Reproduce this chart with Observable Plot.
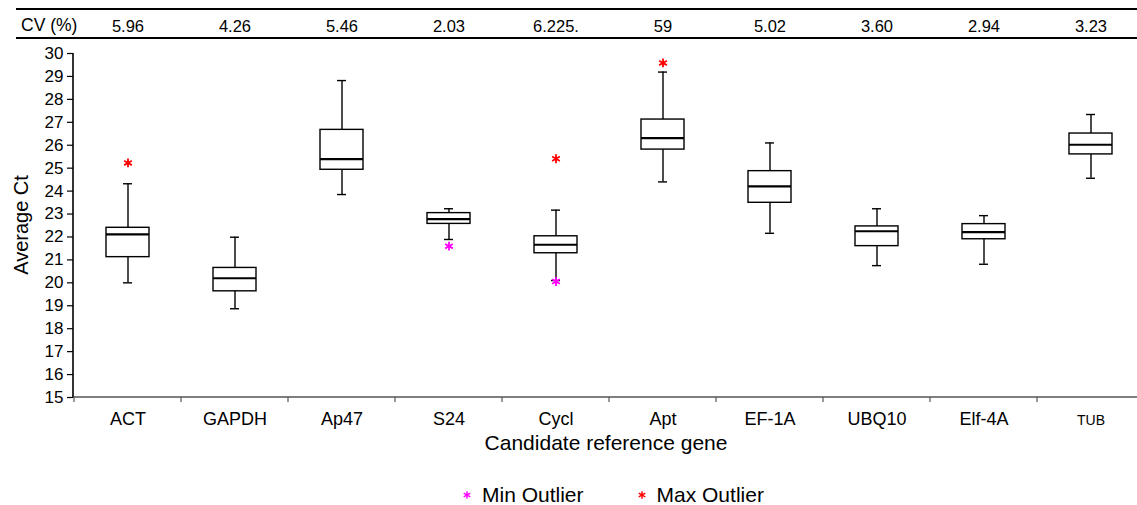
<!DOCTYPE html>
<html>
<head>
<meta charset="utf-8">
<script src="https://cdn.jsdelivr.net/npm/d3@7"></script>
<script src="https://cdn.jsdelivr.net/npm/@observablehq/plot@0.6"></script>
<style>
  body { margin: 0; background: #fff; font-family: "Liberation Sans", Arial, Helvetica, sans-serif; color: #000; }
  #wrap { position: relative; width: 1137px; height: 505px; overflow: hidden; background: #fff; }
  #wrap > svg { position: absolute; left: 0; top: 0; }
  .hline { position: absolute; left: 16px; width: 1121px; height: 2px; background: #000; }
  #cvlab { position: absolute; left: 21px; top: 14px; font-size: 17.5px; line-height: 22px; white-space: nowrap; }
  #ytitle { position: absolute; left: 21px; top: 225px; font-size: 20px; line-height: 22px; white-space: nowrap;
            transform: translate(-50%, -50%) rotate(-90deg); }
  #xtitle { position: absolute; left: 0; width: 1212px; top: 431px; font-size: 21px; line-height: 24px; text-align: center; }
  #legend { position: absolute; left: 462px; top: 483px; display: flex; align-items: center; font-size: 21px; line-height: 24px; }
  #legend svg { display: block; }
</style>
</head>
<body>
<div id="wrap"></div>
<script>
// ---- data ----
const genes = ["ACT", "GAPDH", "Ap47", "S24", "Cycl", "Apt", "EF-1A", "UBQ10", "Elf-4A", "TUB"];
const cvLabels = ["5.96", "4.26", "5.46", "2.03", "6.225.", "59", "5.02", "3.60", "2.94", "3.23"];
const whiskerLow  = [20.00, 18.87, 23.85, 21.89, 20.10, 24.40, 22.16, 20.75, 20.81, 24.56];
const q1          = [21.12, 19.63, 24.93, 22.57, 21.29, 25.81, 23.49, 21.60, 21.90, 25.60];
const medians     = [22.11, 20.20, 25.39, 22.78, 21.66, 26.31, 24.21, 22.25, 22.21, 26.02];
const q3          = [22.40, 20.65, 26.67, 23.04, 22.03, 27.12, 24.87, 22.46, 22.56, 26.51];
const whiskerHigh = [24.32, 21.99, 28.82, 23.23, 23.17, 29.19, 26.10, 23.23, 22.93, 27.34];
const minOutlierGenes  = ["S24", "Cycl"];
const minOutlierValues = [21.60, 20.06];
const maxOutlierGenes  = ["ACT", "Cycl", "Apt"];
const maxOutlierValues = [25.23, 25.41, 29.59];
const yTicks = [15, 16, 17, 18, 19, 20, 21, 22, 23, 24, 25, 26, 27, 28, 29, 30];
const legendLabels = ["Min Outlier", "Max Outlier"];
const outlierColors = ["#ff00ff", "#ff0000"];

// ---- tables built from the arrays ----
const boxes = genes.map((g, i) => ({
  gene: g, cv: cvLabels[i], lo: whiskerLow[i], q1: q1[i], med: medians[i], q3: q3[i], hi: whiskerHigh[i]
}));
const minOut = minOutlierGenes.map((g, i) => ({gene: g, value: minOutlierValues[i]}));
const maxOut = maxOutlierGenes.map((g, i) => ({gene: g, value: maxOutlierValues[i]}));

const FONT = '"Liberation Sans", Arial, Helvetica, sans-serif';

const chart = Plot.plot({
  width: 1137,
  height: 460,
  marginTop: 53,
  marginBottom: 63,
  marginLeft: 73,
  marginRight: 0,
  style: {fontFamily: FONT, fontSize: "17px", color: "#000", background: "transparent", overflow: "visible"},
  x: {type: "band", domain: genes, range: [73, 1144], padding: 0, axis: null},
  y: {domain: [15, 30]},
  marks: [
    Plot.axisY({ticks: yTicks, tickSize: 6, tickPadding: 4, fontSize: 17, label: null, stroke: "#000", strokeWidth: 1.2}),
    // whiskers
    Plot.ruleX(boxes, {x: "gene", y1: "lo", y2: "hi", stroke: "#000", strokeWidth: 1.4}),
    // whisker caps
    Plot.tickY(boxes, {x: "gene", y: "lo", stroke: "#000", strokeWidth: 1.4, insetLeft: 49, insetRight: 49}),
    Plot.tickY(boxes, {x: "gene", y: "hi", stroke: "#000", strokeWidth: 1.4, insetLeft: 49, insetRight: 49}),
    // boxes
    Plot.barY(boxes, {x: "gene", y1: "q1", y2: "q3", fill: "#fff", stroke: "#000", strokeWidth: 1.4, insetLeft: 32, insetRight: 32}),
    // medians
    Plot.tickY(boxes, {x: "gene", y: "med", stroke: "#000", strokeWidth: 2.2, insetLeft: 32, insetRight: 32}),
    // outliers
    Plot.dot(minOut, {x: "gene", y: "value", symbol: "asterisk", r: 4.2, stroke: outlierColors[0], strokeWidth: 1.8}),
    Plot.dot(maxOut, {x: "gene", y: "value", symbol: "asterisk", r: 4.2, stroke: outlierColors[1], strokeWidth: 1.8}),
    // CV row in the header
    Plot.text(boxes, {x: "gene", text: "cv", frameAnchor: "top", lineAnchor: "middle", dy: -27, fontSize: 16.5, fill: "#000"}),
    // category labels
    Plot.text(boxes, {x: "gene", text: "gene", frameAnchor: "bottom", lineAnchor: "bottom", dy: 27,
                      fontSize: d => d.gene === "TUB" ? 14 : 18, fill: "#000"})
  ]
});

// axis lines and band-boundary ticks, placed with the chart's own scales
const xs = chart.scale("x");
const ys = chart.scale("y");
const svg = d3.select(chart);
const yBottom = ys.apply(15), yTop = ys.apply(30);
const xLeft = xs.range[0], xRight = xs.range[1];
const g = svg.append("g");
g.append("line").attr("x1", xLeft).attr("x2", xRight).attr("y1", yBottom).attr("y2", yBottom)
  .attr("stroke", "#555").attr("stroke-width", 1.3);
genes.map(d => xs.apply(d)).concat([xRight]).forEach(x => {
  g.append("line").attr("x1", x).attr("x2", x).attr("y1", yBottom).attr("y2", yBottom + 5)
    .attr("stroke", "#555").attr("stroke-width", 1.2);
});
g.append("line").attr("x1", xLeft).attr("x2", xLeft).attr("y1", yTop).attr("y2", yBottom)
  .attr("stroke", "#000").attr("stroke-width", 1.6);

const wrap = document.getElementById("wrap");
wrap.appendChild(chart);

// header rules and texts
const top1 = document.createElement("div"); top1.className = "hline"; top1.style.top = "8px"; wrap.appendChild(top1);
const top2 = document.createElement("div"); top2.className = "hline"; top2.style.top = "37px"; wrap.appendChild(top2);
const cv = document.createElement("div"); cv.id = "cvlab"; cv.textContent = "CV (%)"; wrap.appendChild(cv);
const yt = document.createElement("div"); yt.id = "ytitle"; yt.textContent = "Average Ct"; wrap.appendChild(yt);
const xt = document.createElement("div"); xt.id = "xtitle"; xt.textContent = "Candidate reference gene"; wrap.appendChild(xt);

// legend
const legend = document.createElement("div"); legend.id = "legend";
const sym = d3.symbol(d3.symbolAsterisk, 40);
legendLabels.forEach((lab, i) => {
  const s = d3.create("svg").attr("width", 10).attr("height", 10)
    .style("margin-left", i === 0 ? "0px" : "53px").style("margin-right", "10px");
  s.append("path").attr("d", sym()).attr("transform", "translate(5,5)")
    .attr("fill", "none").attr("stroke", outlierColors[i]).attr("stroke-width", 1.4);
  legend.appendChild(s.node());
  const t = document.createElement("span"); t.textContent = lab; legend.appendChild(t);
});
wrap.appendChild(legend);
</script>
</body>
</html>
